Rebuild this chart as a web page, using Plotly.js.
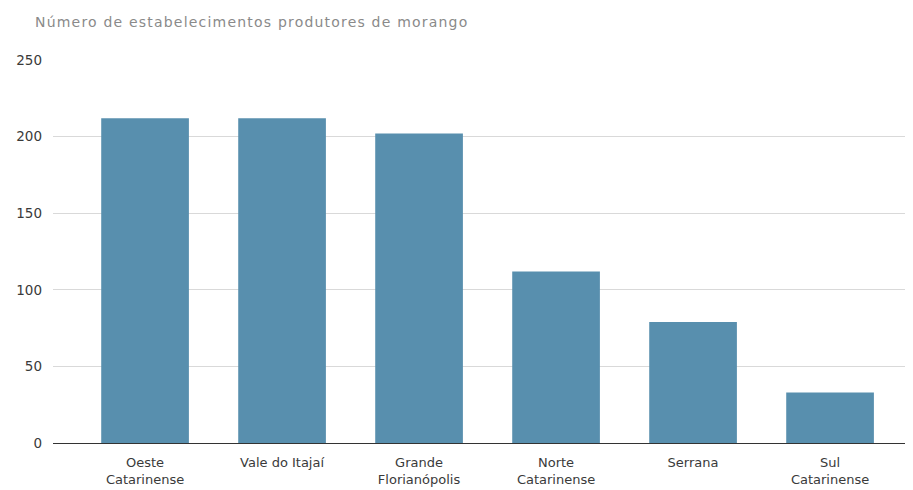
<!DOCTYPE html>
<html><head><meta charset="utf-8">
<script src="https://cdn.plot.ly/plotly-3.0.1.min.js"></script>
<style>body{margin:0;background:#fff}#c{width:913px;height:490px}.gtitle{letter-spacing:1.2px}</style>
</head><body><div id="c"></div>
<script>
const categories = ["Oeste<br>Catarinense","Vale do Itajaí","Grande<br>Florianópolis","Norte<br>Catarinense","Serrana","Sul<br>Catarinense"];
const values = [212, 212, 202, 112, 79, 33];
const yTicks = [0, 50, 100, 150, 200, 250];

Plotly.newPlot('c', [{
  type: 'bar', x: categories, y: values,
  marker: {color: '#588fae'}, width: 0.64, hoverinfo: 'none'
}], {
  width: 913, height: 490,
  margin: {l: 53, r: 8, t: 60, b: 47},
  paper_bgcolor: '#fff', plot_bgcolor: '#fff',
  font: {family: 'DejaVu Sans, sans-serif', color: '#333'},
  title: {text: 'Número de estabelecimentos produtores de morango', x: 35/913, xanchor: 'left', y: 1 - 22/490, yanchor: 'middle',
          font: {size: 14, color: '#8a8a8a'}},
  xaxis: {range: [-0.672, 5.547], tickfont: {size: 13, color: '#3a3a3a'}, showgrid: false, ticks: '', showline: false, zeroline: false, ticklabelstandoff: 10},
  yaxis: {range: [0, 250], tickvals: yTicks, tickfont: {size: 13.5, color: '#3a3a3a'}, gridcolor: '#d9d9d9', gridwidth: 1,
          zeroline: true, zerolinecolor: '#333', zerolinewidth: 1, showline: false, ticks: '', ticklabelstandoff: 10},
  showlegend: false
}, {staticPlot: true});
</script></body></html>
